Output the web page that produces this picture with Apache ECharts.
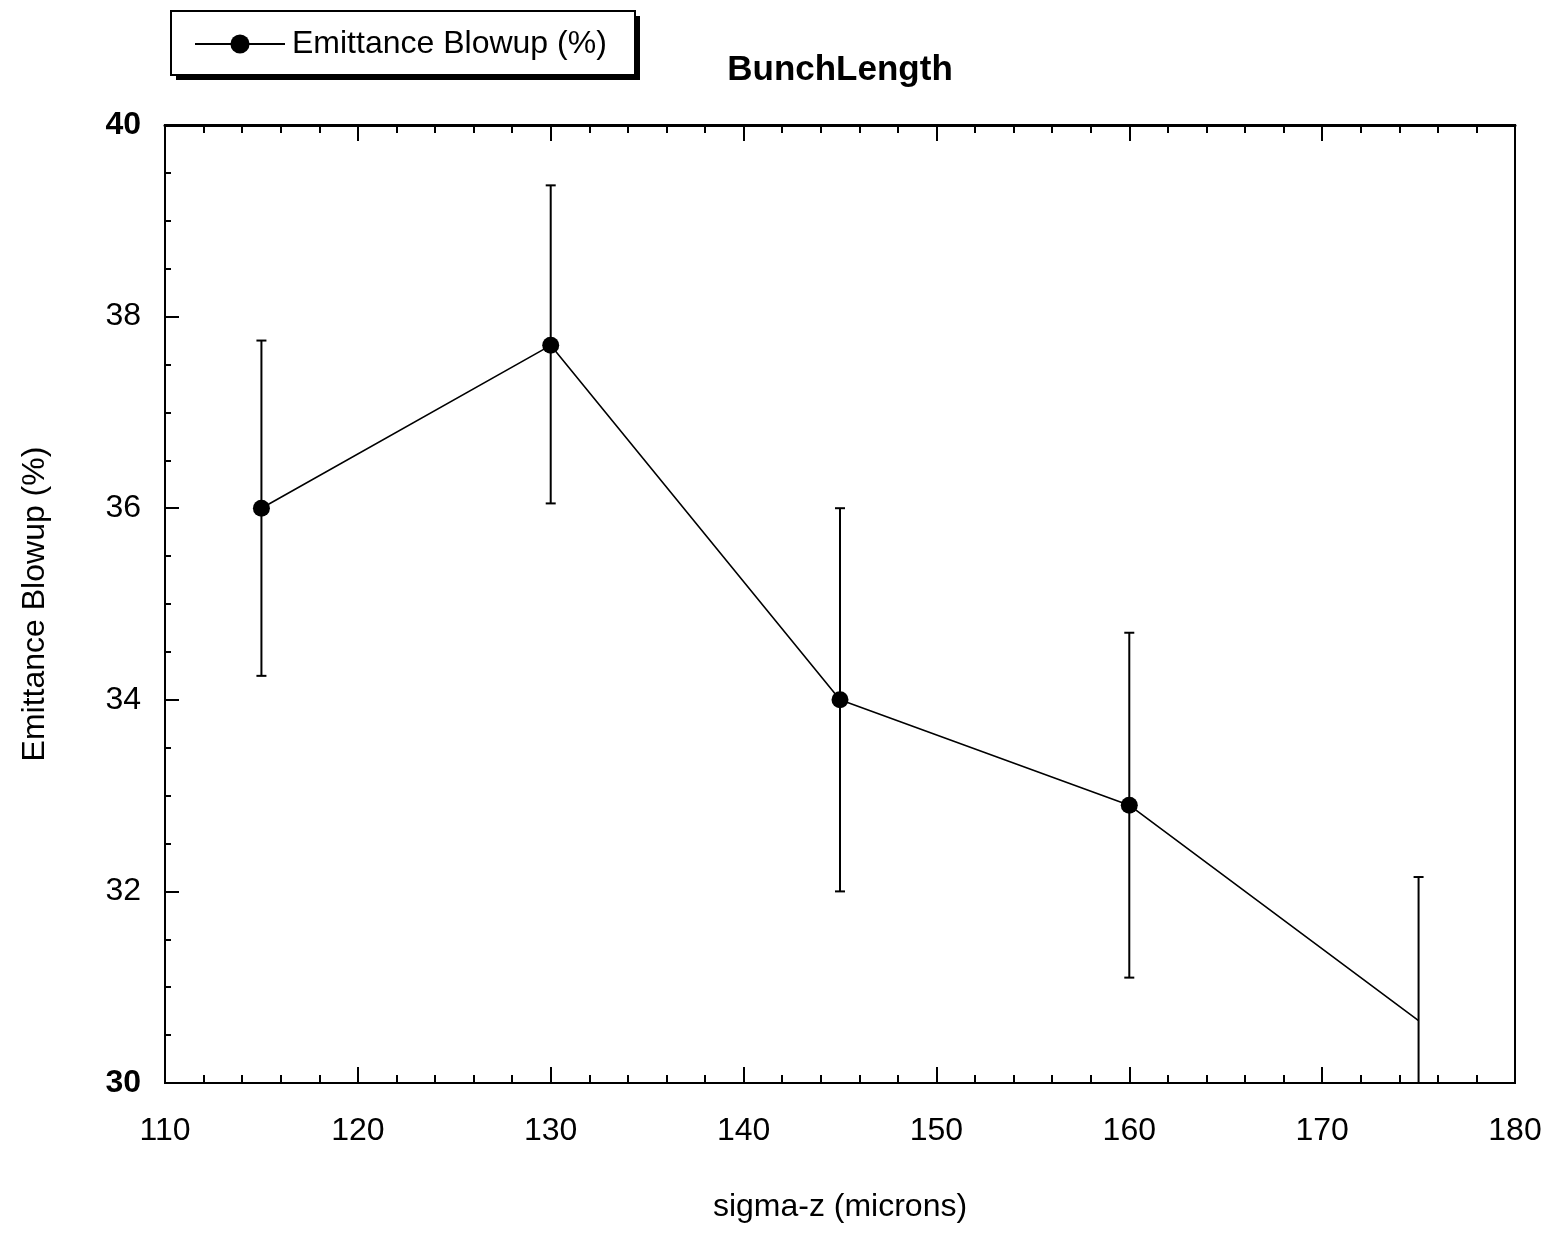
<!DOCTYPE html>
<html lang="en">

<head>
    <meta charset="UTF-8">
    <script src="https://cdn.jsdelivr.net/npm/echarts@6/dist/echarts.min.js"></script>
    <title>BunchLength</title>
</head>

<body style="margin:0;background:#fff;">
    <div id="main" style="height: 1254px;width: 1550px;"></div>

    <script>
        // data
        var sigmaZ = [115, 130, 145, 160, 175];
        var blowup = [36.0, 37.7, 34.0, 32.9, 30.65];
        var errLow = [34.25, 36.05, 32.0, 31.1, 29.1];
        var errHigh = [37.75, 39.37, 36.0, 34.7, 32.15];

        var lineData = sigmaZ.map(function (x, i) {
            var item = { value: [x, blowup[i]] };
            // last marker is lost off the page in the original
            if (i === sigmaZ.length - 1) item.symbol = 'none';
            return item;
        });
        var barData = sigmaZ.map(function (x, i) {
            return [x, errLow[i], errHigh[i]];
        });

        var myChart = echarts.init(document.getElementById('main'));
        var font = 'Liberation Sans, Arial, sans-serif';

        var option = {
            animation: false,
            backgroundColor: '#fff',
            textStyle: { fontFamily: font, color: '#000' },
            title: {
                text: 'BunchLength',
                left: 835,
                top: 48,
                textAlign: 'center',
                textStyle: { fontSize: 35, fontWeight: 'bold', color: '#000', fontFamily: font }
            },
            // legend frame with the heavy right/bottom edge
            graphic: [
                { type: 'rect', left: 176, top: 16, shape: { width: 464, height: 64 }, style: { fill: '#000' }, z: 0 },
                { type: 'rect', left: 170, top: 10, shape: { width: 464, height: 64 }, style: { fill: '#fff', stroke: '#000', lineWidth: 2 }, z: 1 }
            ],
            legend: {
                left: 170,
                top: 10,
                padding: [18, 24, 16, 24],
                itemWidth: 90,
                itemHeight: 24,
                itemGap: 6,
                z: 5,
                selectedMode: false,
                itemStyle: { color: '#000' },
                textStyle: { fontSize: 32, color: '#000', fontFamily: font, padding: [0, 0, 0, 2] },
                data: ['Emittance Blowup (%)']
            },
            grid: {
                left: 165,
                right: 35,
                top: 125,
                bottom: 171,
                show: true,
                borderColor: '#000',
                borderWidth: 2
            },
            xAxis: [{
                type: 'value',
                min: 110,
                max: 180,
                interval: 10,
                name: 'sigma-z (microns)',
                nameLocation: 'middle',
                nameGap: 108,
                nameTextStyle: { fontSize: 32, color: '#000' },
                axisLine: { lineStyle: { color: '#000', width: 2 } },
                axisTick: { inside: true, length: 16, lineStyle: { color: '#000', width: 2 } },
                minorTick: { show: true, splitNumber: 5, length: 8, lineStyle: { color: '#000', width: 2 } },
                axisLabel: { fontSize: 32, color: '#000', margin: 32 },
                splitLine: { show: false }
            }, {
                type: 'value',
                position: 'top',
                min: 110,
                max: 180,
                interval: 10,
                axisLine: { lineStyle: { color: '#000', width: 3 } },
                axisTick: { inside: true, length: 16, lineStyle: { color: '#000', width: 2 } },
                minorTick: { show: true, splitNumber: 5, length: 8, lineStyle: { color: '#000', width: 2 } },
                axisLabel: { show: false },
                splitLine: { show: false }
            }],
            yAxis: {
                type: 'value',
                min: 30,
                max: 40,
                interval: 2,
                name: 'Emittance Blowup (%)',
                nameLocation: 'middle',
                nameGap: 114,
                nameTextStyle: { fontSize: 32, color: '#000' },
                axisLine: { show: true, lineStyle: { color: '#000', width: 2 } },
                axisTick: { inside: true, length: 14, lineStyle: { color: '#000', width: 2 } },
                minorTick: { show: true, splitNumber: 4, length: 6, lineStyle: { color: '#000', width: 2 } },
                axisLabel: {
                    fontSize: 32,
                    color: '#000',
                    margin: 24,
                    formatter: function (v) {
                        return (v === 30 || v === 40) ? '{b|' + v + '}' : String(v);
                    },
                    rich: { b: { fontSize: 32, fontWeight: 'bold', color: '#000' } }
                },
                splitLine: { show: false }
            },
            series: [
                {
                    name: 'Emittance Blowup (%)',
                    type: 'line',
                    data: lineData,
                    symbol: 'circle',
                    symbolSize: 17,
                    color: '#000',
                    itemStyle: { color: '#000' },
                    lineStyle: { color: '#000', width: 1.6 },
                    z: 3
                },
                {
                    type: 'custom',
                    clip: true,
                    data: barData,
                    renderItem: function (params, api) {
                        var x = api.value(0);
                        var lo = api.coord([x, api.value(1)]);
                        var hi = api.coord([x, api.value(2)]);
                        var cap = 5;
                        var style = { stroke: '#000', lineWidth: 2 };
                        return {
                            type: 'group',
                            children: [
                                { type: 'line', shape: { x1: hi[0], y1: hi[1], x2: lo[0], y2: lo[1] }, style: style },
                                { type: 'line', shape: { x1: hi[0] - cap, y1: hi[1], x2: hi[0] + cap, y2: hi[1] }, style: style },
                                { type: 'line', shape: { x1: lo[0] - cap, y1: lo[1], x2: lo[0] + cap, y2: lo[1] }, style: style }
                            ]
                        };
                    },
                    z: 2
                }
            ]
        };
        myChart.setOption(option);
    </script>
</body>

</html>
